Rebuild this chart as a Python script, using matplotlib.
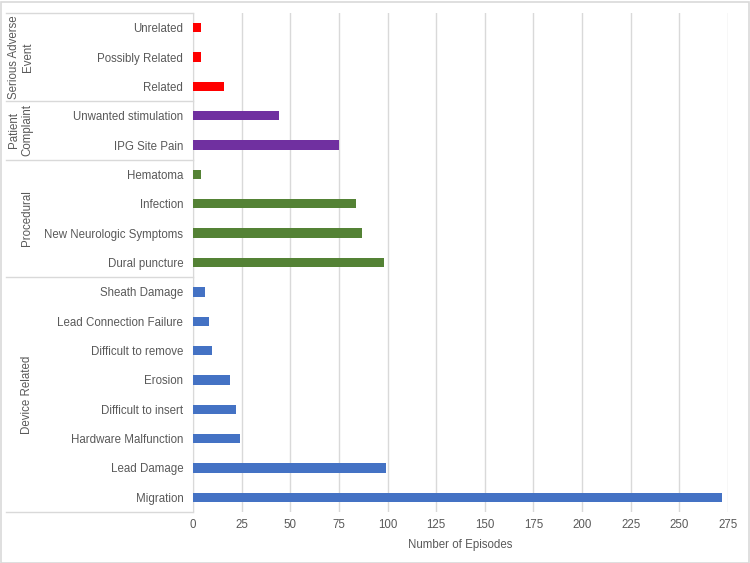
import matplotlib
matplotlib.use("Agg")
import matplotlib.pyplot as plt
from matplotlib.patches import Rectangle
import matplotlib.transforms as mtransforms

plt.rcParams['font.family'] = ['Liberation Sans', 'DejaVu Sans']

# Data (bottom to top)
categories = ["Migration", "Lead Damage", "Hardware Malfunction", "Difficult to insert",
              "Erosion", "Difficult to remove", "Lead Connection Failure", "Sheath Damage",
              "Dural puncture", "New Neurologic Symptoms", "Infection", "Hematoma",
              "IPG Site Pain", "Unwanted stimulation",
              "Related", "Possibly Related", "Unrelated"]
values = [272, 99, 24, 22, 19, 10, 8, 6,
          98, 87, 84, 4,
          75, 44,
          16, 4, 4]
groups = ["Device Related", "Procedural", "Patient\nComplaint", "Serious Adverse\nEvent"]
group_sizes = [8, 4, 2, 3]
group_colors = ["#4472C4", "#548235", "#7030A0", "#FF0000"]
xticks = [0, 25, 50, 75, 100, 125, 150, 175, 200, 225, 250, 275]

colors = []
for c, n in zip(group_colors, group_sizes):
    colors += [c] * n

FS = 8.3
W, H = 750, 563
fig = plt.figure(figsize=(7.5, 5.63), dpi=100)
left, right, top, bottom = 193, 728, 13, 512
ax = fig.add_axes([left / W, 1 - bottom / H, (right - left) / W, (bottom - top) / H])

ypos = list(range(len(categories)))
ax.barh(ypos, values, height=0.32, color=colors, zorder=3)
ax.set_ylim(-0.5, len(categories) - 0.5)
ax.set_xlim(0, 275)
ax.set_xticks(xticks)
ax.set_yticks(ypos)
ax.set_yticklabels(categories)
grey = "#595959"
ax.tick_params(axis='both', length=0, labelsize=FS, colors=grey)
ax.tick_params(axis='y', pad=7)
ax.tick_params(axis='x', pad=5)
ax.xaxis.grid(True, color="#d9d9d9", linewidth=1, zorder=0)
for s in ['top', 'right', 'bottom']:
    ax.spines[s].set_visible(False)
ax.spines['left'].set_color("#d9d9d9")
ax.set_xlabel("Number of Episodes", fontsize=FS, color=grey, labelpad=6)

# group separators and labels
trans = mtransforms.blended_transform_factory(ax.transAxes, ax.transData)
x0 = (6 - left) / (right - left)
start = -0.5
bounds = [start]
for n in group_sizes:
    start += n
    bounds.append(start)
for b in bounds:
    ax.plot([x0, 0], [b, b], transform=trans, color="#d9d9d9", lw=1, clip_on=False)

label_x = [(27 - left) / (right - left), (27 - left) / (right - left),
           (21 - left) / (right - left), (21 - left) / (right - left)]
for i, g in enumerate(groups):
    yc = (bounds[i] + bounds[i + 1]) / 2
    ax.text(label_x[i], yc, g, transform=trans, rotation=90, ha='center', va='center',
            fontsize=FS, color=grey, linespacing=1.15, multialignment='center')

# outer border
fig.patches.append(Rectangle((0.5 / W, 0.5 / H), 1 - 2 / W, 1 - 2 / H, transform=fig.transFigure,
                             fill=False, edgecolor="#d9d9d9", lw=1.2))

fig.savefig("out.png", dpi=100)
